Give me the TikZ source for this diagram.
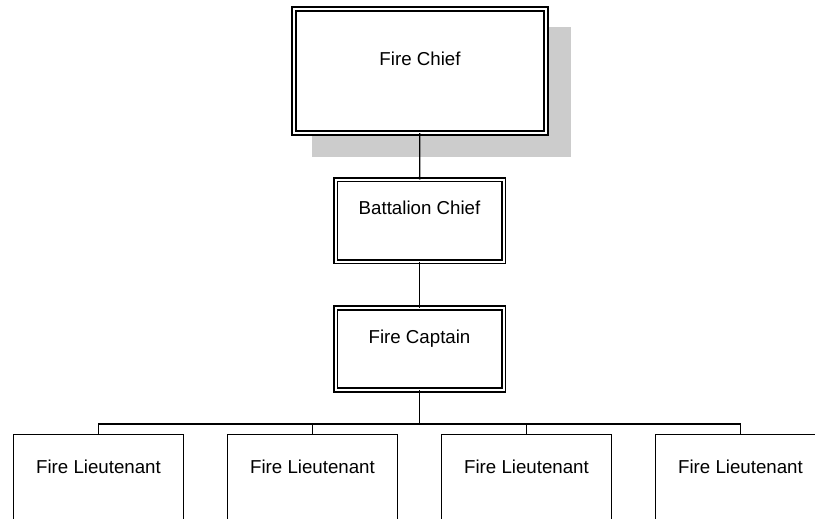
\documentclass[tikz,border=0pt]{standalone}
\usepackage{fontspec}
\setmainfont{Liberation Sans}
\definecolor{shadegray}{HTML}{CCCCCC}
\begin{document}
\begin{tikzpicture}[x=1pt,y=-1pt,
	label font/.style={font=\fontsize{18.7}{22}\selectfont,text height=13.4pt,text depth=25pt},
	rank/.style={draw,fill=white,line width=1.8pt,double,double distance=2pt,outer sep=0pt,inner sep=0pt,label font},
	crew/.style={draw,line width=1.3pt,outer sep=0pt,inner sep=0pt,minimum width=170pt,minimum height=90pt,label font},
	link/.style={line width=1.3pt}]
		\useasboundingbox (0,0) rectangle (815,519);
		\clip (0,0) rectangle (815,519);
		\fill[shadegray] (312,27) rectangle (571,157);
		\node[rank,minimum width=252.4pt,minimum height=124.4pt] (chief) at (420,71) {Fire Chief};
		\node[rank,minimum width=168pt,minimum height=82pt] (battalion) at (419.5,220.5) {Battalion Chief};
		\node[rank,minimum width=168pt,minimum height=82pt] (captain) at (419.5,349) {Fire Captain};
		\node[crew] (lt1) at (98.5,479.7) {Fire Lieutenant};
		\node[crew] (lt2) at (312.5,479.7) {Fire Lieutenant};
		\node[crew] (lt3) at (526.5,479.7) {Fire Lieutenant};
		\node[crew] (lt4) at (740.5,479.7) {Fire Lieutenant};
		\coordinate (bus) at (captain.south |- 0,424);
		\draw[link] (chief) -- (battalion);
		\draw[link] (battalion) -- (captain);
		\draw[link] (captain) -- (bus);
		\foreach \lt in {lt1,lt2,lt3,lt4}
			\draw[link] (bus) -| (\lt.north);
\end{tikzpicture}
\end{document}
